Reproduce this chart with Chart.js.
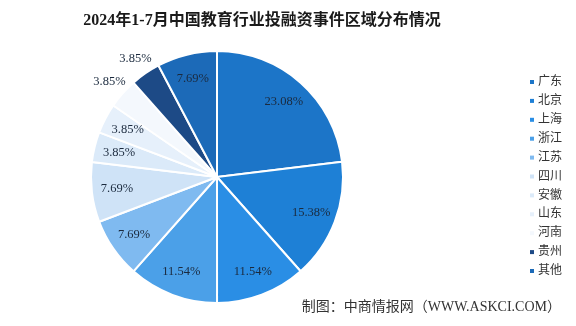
<!DOCTYPE html>
<html>
<head>
<meta charset="utf-8">
<script src="https://cdn.jsdelivr.net/npm/chart.js@4/dist/chart.umd.min.js"></script>
<style>
  html, body { margin: 0; padding: 0; background: #fff; }
  #wrap { position: relative; width: 576px; height: 326px; }
</style>
</head>
<body>
<div id="wrap"><canvas id="chart" width="576" height="326"></canvas></div>
<script>
// region share of education investment deals, Jan-Jul 2024
const TITLE = '2024年1-7月中国教育行业投融资事件区域分布情况'
const SOURCE = '制图：中商情报网（WWW.ASKCI.COM）'

const regions = ['广东', '北京', '上海', '浙江', '江苏', '四川', '安徽', '山东', '河南', '贵州', '其他']
const shares = [23.08, 15.38, 11.54, 11.54, 7.69, 7.69, 3.85, 3.85, 3.85, 3.85, 7.69]
const sliceColors = ['#1c75c8', '#1e80d6', '#2a8ee5', '#4ba0e8', '#7fbaf0', '#cfe3f7',
  '#dbeaf9', '#e6f0fb', '#f4f8fd', '#1d4a86', '#1c6ab8']

// labels of these slices sit outside the pie
const outsideLabels = ['河南', '贵州']

const CJK = '"Liberation Serif", "Noto Sans CJK SC", serif'

// title, value labels, legend, source line
const decorPlugin = {
  id: 'decor',
  afterDraw(chart) {
    const ctx = chart.ctx
    ctx.save()

    // title
    ctx.fillStyle = '#1a1a1a'
    ctx.font = 'bold 16px ' + CJK
    ctx.textAlign = 'center'
    ctx.textBaseline = 'middle'
    ctx.fillText(TITLE, 262, 21)

    // value labels
    const arcs = chart.getDatasetMeta(0).data
    ctx.font = '12.5px ' + CJK
    ctx.fillStyle = '#1b2a3e'
    arcs.forEach((arc, i) => {
      const mid = (arc.startAngle + arc.endAngle) / 2
      const r = outsideLabels.includes(regions[i]) ? arc.outerRadius * 1.14 : arc.outerRadius * 0.8
      const x = arc.x + Math.cos(mid) * r
      const y = arc.y + Math.sin(mid) * r
      ctx.fillText(shares[i].toFixed(2) + '%', x, y)
    })

    // legend
    ctx.font = '12px ' + CJK
    ctx.textAlign = 'left'
    regions.forEach((name, i) => {
      const y = 82 + i * 18.9
      ctx.fillStyle = sliceColors[i]
      ctx.fillRect(530, y - 2, 4, 4)
      ctx.fillStyle = '#333'
      ctx.fillText(name, 538, y)
    })

    // source
    ctx.font = '14px ' + CJK
    ctx.fillStyle = '#333'
    ctx.textAlign = 'right'
    ctx.fillText(SOURCE, 561, 307)

    ctx.restore()
  },
}

const chartData = {
  labels: regions,
  datasets: [
    {
      data: shares,
      backgroundColor: sliceColors,
      borderColor: '#ffffff',
      borderWidth: 2,
      radius: 126,
    },
  ],
}

const chartConfig = {
  type: 'pie',
  data: chartData,
  options: {
    responsive: false,
    animation: false,
    layout: { padding: { left: 0, right: 142, top: 51, bottom: 23 } },
    plugins: {
      legend: { display: false },
      tooltip: { enabled: false },
    },
  },
  plugins: [decorPlugin],
}

new Chart(document.querySelector('#chart').getContext('2d'), chartConfig)
</script>
</body>
</html>
